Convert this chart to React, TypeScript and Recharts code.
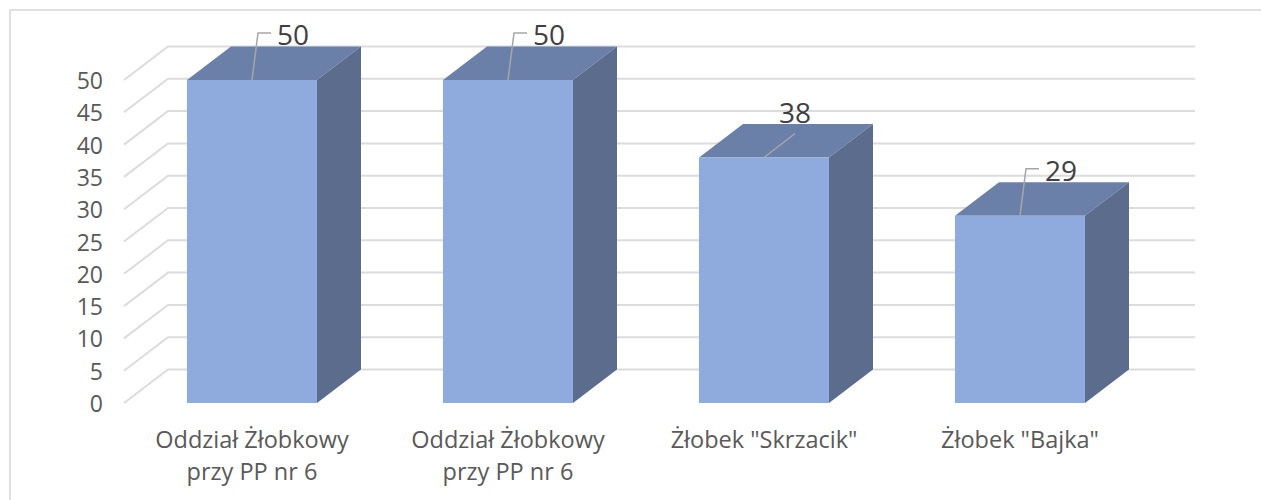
import { BarChart, Bar, XAxis, YAxis, CartesianGrid, LabelList } from 'recharts'

const categories = [
  ['Oddział Żłobkowy', 'przy PP nr 6'],
  ['Oddział Żłobkowy', 'przy PP nr 6'],
  ['Żłobek "Skrzacik"'],
  ['Żłobek "Bajka"'],
]
const values = [50, 50, 38, 29]
const yTicks = [0, 5, 10, 15, 20, 25, 30, 35, 40, 45, 50]

const chartData = categories.map((_, i) => ({ id: i, value: values[i] }))

const DEPTH_X = 44
const DEPTH_Y = 33.5
const FONT = '"Open Sans", sans-serif'

// gridline runs along the floor diagonal, then along the back wall
function gridLine(props: any) {
  const { x1, x2, y1, key } = props
  return (
    <polyline
      key={key}
      points={`${x1},${y1} ${x1 + DEPTH_X},${y1 - DEPTH_Y} ${x2 + 47},${y1 - DEPTH_Y}`}
      fill="none"
      stroke="#dcdcdc"
      strokeWidth={2}
    />
  )
}

function Box3D(props: any) {
  const { x, y, width, height } = props
  const r = x + width
  const b = y + height
  return (
    <g>
      <polygon points={`${x},${y} ${x + DEPTH_X},${y - DEPTH_Y} ${r + DEPTH_X},${y - DEPTH_Y} ${r},${y}`} fill="#6b80a8" />
      <polygon points={`${r},${y} ${r + DEPTH_X},${y - DEPTH_Y} ${r + DEPTH_X},${b - DEPTH_Y} ${r},${b}`} fill="#5c6c8c" />
      <rect x={x} y={y} width={width} height={height} fill="#8faadc" />
    </g>
  )
}

function LeaderLabel(props: any) {
  const { x, y, width, value, index } = props
  const cx = x + width / 2
  // the 38 label sits closer to its bar, so its leader has no elbow
  const straight = values[index] === 38
  const textX = straight ? cx + 31 : cx + 41
  const textY = y - 46
  const line = straight
    ? `${cx},${y} ${cx + 31},${y - 24}`
    : `${cx},${y} ${cx + 6},${y - 47} ${cx + 19},${y - 47}`
  return (
    <g>
      <polyline points={line} fill="none" stroke="#a6a6a6" strokeWidth={1.5} />
      <text x={textX} y={textY} textAnchor="middle" dominantBaseline="central" fontSize={28} fontFamily={FONT} fill="#404040">
        {value}
      </text>
    </g>
  )
}

function CategoryTick(props: any) {
  const { x, y, payload } = props
  return (
    <text textAnchor="middle" fontSize={23.5} fontFamily={FONT} fill="#595959">
      {categories[payload.value].map((line, i) => (
        <tspan key={i} x={x} y={y + 37 + i * 32}>
          {line}
        </tspan>
      ))}
    </text>
  )
}

function ValueTick(props: any) {
  const { x, y, payload } = props
  return (
    <text x={x} y={y + 9} textAnchor="end" fontSize={23} fontFamily={FONT} fill="#595959">
      {payload.value}
    </text>
  )
}

export default function App() {
  return (
    <div style={{ position: 'absolute', left: 0, top: 0, width: 1261, height: 500, background: '#fff' }}>
      <div style={{ position: 'absolute', left: 9, top: 9, width: 1252, height: 491, borderLeft: '2px solid #e0e0e0', borderTop: '2px solid #e0e0e0', boxSizing: 'border-box' }} />
      <BarChart width={1261} height={500} data={chartData} margin={{ top: 80, right: 113, bottom: 0, left: 0 }}>
        <CartesianGrid vertical={false} horizontal={gridLine} />
        <XAxis dataKey="id" height={97} axisLine={false} tickLine={false} tick={CategoryTick} interval={0} />
        <YAxis
          width={124}
          domain={[0, 50]}
          ticks={yTicks}
          interval={0}
          axisLine={false}
          tickLine={false}
          tickMargin={15}
          tick={ValueTick}
        />
        <Bar dataKey="value" barSize={130} shape={Box3D} isAnimationActive={false}>
          <LabelList dataKey="value" content={LeaderLabel} />
        </Bar>
      </BarChart>
    </div>
  )
}
